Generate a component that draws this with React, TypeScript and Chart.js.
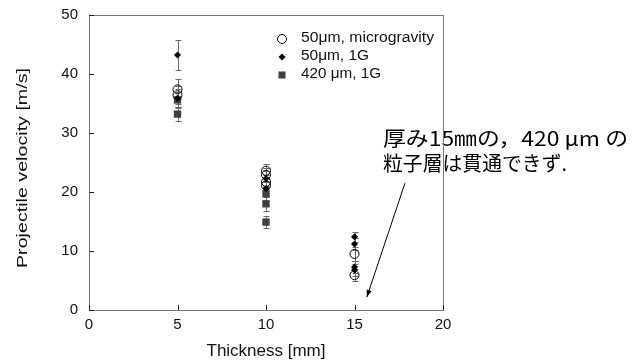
import React, { useEffect, useRef } from 'react';
import { Chart, registerables } from 'chart.js';

Chart.register(...registerables);

// ---- data ----
const xTickValues = [0, 5, 10, 15, 20];
const yTickValues = [0, 10, 20, 30, 40, 50];

const microLabel = '50\u03bcm, microgravity';
const microX = [5, 5, 10, 10, 10, 10, 15, 15];
const microY = [37.4, 36.4, 23.6, 22.9, 21.7, 21.1, 9.5, 5.9];
const microErr = [1.7, 1.5, 1.1, 1.2, 1.2, 1.2, 1.2, 1.0];

const g50Label = '50\u03bcm, 1G';
const g50X = [5, 5, 10, 10, 15, 15, 15, 15];
const g50Y = [43.2, 35.9, 22.3, 20.6, 12.4, 11.2, 7.3, 6.8];
const g50Err = [2.5, 1.5, 1.2, 1.2, 0.9, 1.0, 1.0, 1.0];

const g420Label = '420 \u03bcm, 1G';
const g420X = [5, 5, 10, 10, 10];
const g420Y = [35.6, 33.2, 19.7, 18.0, 14.9];
const g420Err = [1.3, 1.2, 1.2, 1.2, 1.0];

const xTitle = 'Thickness [mm]';
const yTitle = 'Projectile velocity [m/s]';
const noteLine1 = '厚み15㎜の，420 μm の';
const noteLine2 = '粒子層は貫通できず.';
const arrowFrom = [17.85, 21.5];
const arrowTo = [15.7, 2.2];

const SANS = '"Liberation Sans", Arial, sans-serif';
const CJK = '"Noto Sans CJK JP", "Noto Sans CJK SC", sans-serif';

function fitText(ctx: CanvasRenderingContext2D, text: string, x: number, y: number, width: number, font: string, align: CanvasTextAlign, rot = 0, color = '#111') {
  ctx.save();
  ctx.font = font;
  const w = ctx.measureText(text).width;
  const s = width / w;
  ctx.translate(x, y);
  ctx.rotate(rot);
  ctx.scale(s, 1);
  ctx.textBaseline = 'middle';
  ctx.textAlign = align;
  ctx.fillStyle = color;
  ctx.fillText(text, 0, 0);
  ctx.restore();
}

function drawMarker(ctx: CanvasRenderingContext2D, kind: string, x: number, y: number) {
  ctx.save();
  ctx.beginPath();
  if (kind === 'circle') {
    ctx.arc(x, y, 4.5, 0, Math.PI * 2);
    ctx.strokeStyle = '#000';
    ctx.lineWidth = 1;
    ctx.stroke();
  } else if (kind === 'diamond') {
    const r = 3.5;
    ctx.moveTo(x, y - r); ctx.lineTo(x + r, y); ctx.lineTo(x, y + r); ctx.lineTo(x - r, y); ctx.closePath();
    ctx.fillStyle = '#000';
    ctx.fill();
  } else {
    ctx.rect(x - 3.5, y - 3.5, 7, 7);
    ctx.fillStyle = '#404040';
    ctx.fill();
  }
  ctx.restore();
}

const errorBarPlugin = {
  id: 'errorBars',
  beforeDatasetsDraw(chart: any) {
    const { ctx, scales } = chart;
    const x = scales.x, y = scales.y;
    ctx.save();
    ctx.strokeStyle = '#6a6a6a';
    ctx.lineWidth = 1;
    chart.data.datasets.forEach((ds: any) => {
      ds.data.forEach((p: any, i: number) => {
        const e = ds.errors[i];
        const px = Math.round(x.getPixelForValue(p.x)) + 0.5;
        const top = Math.round(y.getPixelForValue(p.y + e)) + 0.5;
        const bot = Math.round(y.getPixelForValue(p.y - e)) + 0.5;
        ctx.beginPath();
        ctx.moveTo(px, top); ctx.lineTo(px, bot);
        ctx.moveTo(px - 3, top); ctx.lineTo(px + 3, top);
        ctx.moveTo(px - 3, bot); ctx.lineTo(px + 3, bot);
        ctx.stroke();
      });
    });
    ctx.restore();
  },
};

const decorPlugin = {
  id: 'decor',
  afterDraw(chart: any) {
    const { ctx, chartArea, scales } = chart;
    const x = scales.x, y = scales.y;
    const { left, right, top, bottom } = chartArea;

    // annotation text
    fitText(ctx, noteLine1, 383, 138, 245, '20px ' + CJK, 'left', 0, '#000');
    fitText(ctx, noteLine2, 383, 163, 184, '20px ' + CJK, 'left', 0, '#000');

    // arrow
    const ax0 = x.getPixelForValue(arrowFrom[0]);
    const ay0 = y.getPixelForValue(arrowFrom[1]);
    const ax1 = x.getPixelForValue(arrowTo[0]);
    const ay1 = y.getPixelForValue(arrowTo[1]);
    ctx.save();
    ctx.strokeStyle = '#000';
    ctx.fillStyle = '#000';
    ctx.lineWidth = 1;
    ctx.beginPath();
    ctx.moveTo(ax0, ay0);
    ctx.lineTo(ax1, ay1);
    ctx.stroke();
    const ang = Math.atan2(ay1 - ay0, ax1 - ax0);
    const hl = 7, hw = 2.5;
    ctx.beginPath();
    ctx.moveTo(ax1, ay1);
    ctx.lineTo(ax1 - hl * Math.cos(ang) + hw * Math.sin(ang), ay1 - hl * Math.sin(ang) - hw * Math.cos(ang));
    ctx.lineTo(ax1 - hl * Math.cos(ang) - hw * Math.sin(ang), ay1 - hl * Math.sin(ang) + hw * Math.cos(ang));
    ctx.closePath();
    ctx.fill();
    ctx.restore();

    // frame
    ctx.save();
    ctx.strokeStyle = '#777';
    ctx.lineWidth = 1;
    ctx.strokeRect(Math.round(left) + 0.5, Math.round(top) + 0.5, Math.round(right - left), Math.round(bottom - top));
    // inward ticks
    ctx.strokeStyle = '#222';
    ctx.beginPath();
    xTickValues.forEach((v) => {
      const px = Math.round(x.getPixelForValue(v)) + 0.5;
      ctx.moveTo(px, bottom);
      ctx.lineTo(px, bottom - 5);
    });
    yTickValues.forEach((v) => {
      const py = Math.round(y.getPixelForValue(v)) + 0.5;
      ctx.moveTo(left, py);
      ctx.lineTo(left + 5, py);
    });
    ctx.stroke();
    ctx.restore();

    // axis titles
    fitText(ctx, xTitle, 266, 352, 119, '16px ' + SANS, 'center');
    fitText(ctx, yTitle, 23, 168, 200, '15px ' + SANS, 'center', -Math.PI / 2);

    // legend
    const rows = [
      { kind: 'circle', label: microLabel, w: 133 },
      { kind: 'diamond', label: g50Label, w: 68 },
      { kind: 'square', label: g420Label, w: 80 },
    ];
    rows.forEach((r, i) => {
      const cy = 38 + i * 18;
      drawMarker(ctx, r.kind, 282, cy + 1);
      fitText(ctx, r.label, 301, cy, r.w, '14px ' + SANS, 'left');
    });
  },
};

function pts(xs: number[], ys: number[]) {
  return xs.map((v, i) => ({ x: v, y: ys[i] }));
}

export default function App() {
  const ref = useRef<HTMLCanvasElement | null>(null);
  useEffect(() => {
    if (!ref.current) return;
    const chart = new Chart(ref.current, {
      type: 'scatter',
      data: {
        datasets: [
          {
            label: microLabel,
            data: pts(microX, microY),
            errors: microErr,
            pointStyle: 'circle',
            pointRadius: 4.5,
            backgroundColor: 'rgba(0,0,0,0)',
            borderColor: '#000',
            borderWidth: 1,
          } as any,
          {
            label: g50Label,
            data: pts(g50X, g50Y),
            errors: g50Err,
            pointStyle: 'rectRot',
            pointRadius: 3.5,
            backgroundColor: '#000',
            borderColor: '#000',
            borderWidth: 0,
          } as any,
          {
            label: g420Label,
            data: pts(g420X, g420Y),
            errors: g420Err,
            pointStyle: 'rect',
            pointRadius: 5.2,
            backgroundColor: '#404040',
            borderColor: '#404040',
            borderWidth: 0,
          } as any,
        ],
      },
      options: {
        animation: false,
        responsive: true,
        maintainAspectRatio: false,
        layout: { autoPadding: false, padding: { top: 15, right: 196, left: 0, bottom: 0 } },
        plugins: { legend: { display: false }, tooltip: { enabled: false } },
        scales: {
          x: {
            type: 'linear',
            min: 0,
            max: 20,
            afterBuildTicks: (s: any) => { s.ticks = xTickValues.map((v) => ({ value: v })); },
            afterFit: (s: any) => { s.height = 52; s.paddingLeft = 0; s.paddingRight = 0; },
            grid: { display: false, drawTicks: false },
            border: { display: false },
            ticks: { padding: 6, color: '#111', font: { family: SANS, size: 15 } },
          },
          y: {
            type: 'linear',
            min: 0,
            max: 50,
            afterBuildTicks: (s: any) => { s.ticks = yTickValues.map((v) => ({ value: v })); },
            afterFit: (s: any) => { s.width = 89; s.paddingTop = 0; s.paddingBottom = 0; },
            grid: { display: false, drawTicks: false },
            border: { display: false },
            ticks: { padding: 11, color: '#111', font: { family: SANS, size: 15 } },
          },
        },
      },
      plugins: [errorBarPlugin, decorPlugin],
    } as any);
    return () => chart.destroy();
  }, []);
  return (
    <div style={{ position: 'absolute', left: 0, top: 0, width: 639, height: 362, background: '#fff' }}>
      <canvas ref={ref} />
    </div>
  );
}
